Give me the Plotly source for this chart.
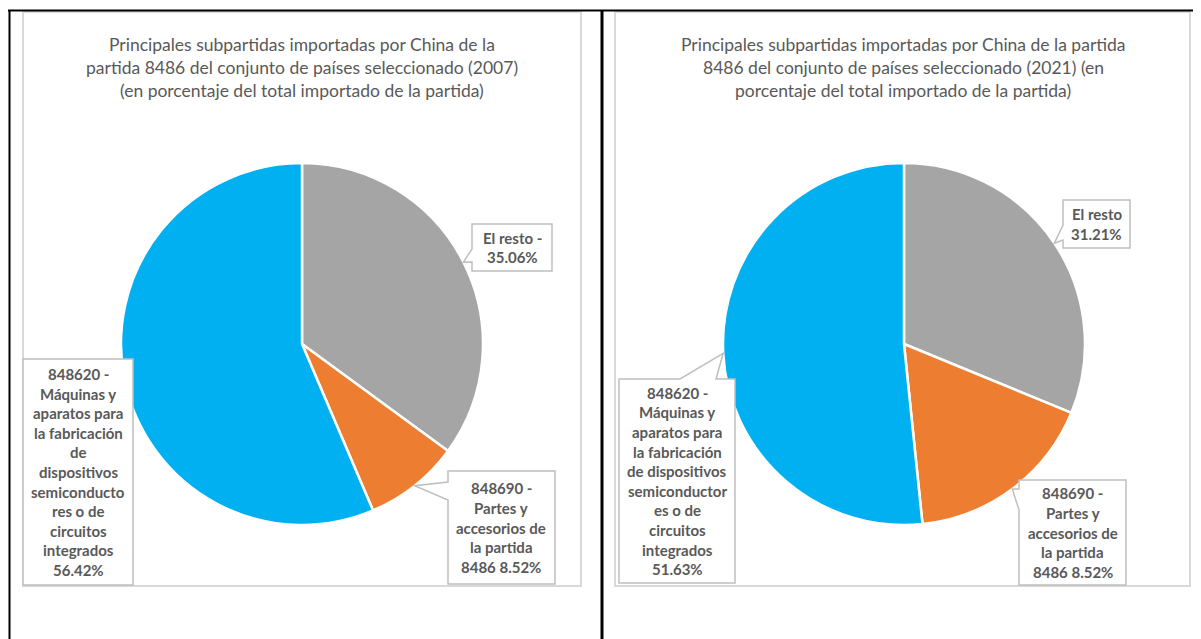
import math
import plotly.graph_objects as go

# page body has an 8px margin; figure fills the rest of the 1201x639 window
OFF = 8
W, H = 1201 - OFF, 639 - OFF

# ---------------- data ----------------
categories = ["El resto",
              "848690 - Partes y accesorios de la partida 8486",
              "848620 - Máquinas y aparatos para la fabricación de dispositivos semiconductores o de circuitos integrados"]
colors = ["#A5A5A5", "#ED7D31", "#00B0F0"]

values_2007 = [35.06, 8.52, 56.42]
values_2021 = [31.21, 17.16, 51.63]

title_2007 = ["Principales subpartidas importadas por China de la",
              "partida 8486 del conjunto de países seleccionado (2007)",
              "(en porcentaje del total importado de la partida)"]
title_2021 = ["Principales subpartidas importadas por China de la partida",
              "8486 del conjunto de países seleccionado (2021) (en",
              "porcentaje del total importado de la partida)"]

labels_2007 = [["El resto -", "35.06%"],
               ["848690 -", "Partes y", "accesorios de", "la partida", "8486 8.52%"],
               ["848620 -", "Máquinas y", "aparatos para", "la fabricación", "de",
                "dispositivos", "semiconducto", "res o de", "circuitos", "integrados", "56.42%"]]
labels_2021 = [["El resto", "31.21%"],
               ["848690 -", "Partes y", "accesorios de", "la partida", "8486 8.52%"],
               ["848620 -", "Máquinas y", "aparatos para", "la fabricación", "de dispositivos",
                "semiconductor", "es o de", "circuitos", "integrados", "51.63%"]]

# ---------------- layout helpers (window pixels -> paper) ----------------
def X(px):
    return (px - OFF) / W

def Y(py):
    return 1 - (py - OFF) / H

fig = go.Figure()

pies = [
    dict(values=values_2007, labels=labels_2007, title=title_2007,
         cx=302, cy=344, r=181, tcx=302,
         boxes=[dict(b=(472, 224, 552, 271), side="left", base=(249, 262)),
                dict(b=(448, 471, 555, 584), side="left", base=(482, 500)),
                dict(b=(23, 359, 133, 585), side=None, base=None)]),
    dict(values=values_2021, labels=labels_2021, title=title_2021,
         cx=904, cy=344, r=181, tcx=903,
         boxes=[dict(b=(1063, 200, 1130, 248), side="left", base=(225, 240)),
                dict(b=(1019, 480, 1126, 585), side="left", base=(489, 510)),
                dict(b=(619, 379, 735, 583), side="top", base=(680, 716))]),
]

shapes = []
annotations = []

# table frame (black lines)
shapes.append(dict(type="line", xref="paper", yref="paper", x0=X(8), x1=X(1201), y0=Y(10.5), y1=Y(10.5),
                   line=dict(color="black", width=2)))
shapes.append(dict(type="line", xref="paper", yref="paper", x0=X(9.5), x1=X(9.5), y0=Y(10), y1=Y(639),
                   line=dict(color="black", width=2)))
shapes.append(dict(type="line", xref="paper", yref="paper", x0=X(602), x1=X(602), y0=Y(10), y1=Y(639),
                   line=dict(color="black", width=3)))

# chart area borders
for (x0, x1) in [(23, 581), (615, 1190)]:
    shapes.append(dict(type="rect", xref="paper", yref="paper", x0=X(x0), x1=X(x1), y0=Y(12), y1=Y(586),
                       line=dict(color="#D9D9D9", width=2), fillcolor="rgba(0,0,0,0)", layer="below"))

for p in pies:
    cx, cy, r = p["cx"], p["cy"], p["r"]
    fig.add_trace(go.Pie(
        labels=categories, values=p["values"], sort=False, direction="clockwise", rotation=0,
        marker=dict(colors=colors, line=dict(color="white", width=2.5)),
        textinfo="none", hoverinfo="label+percent", showlegend=False,
        domain=dict(x=[X(cx - r), X(cx + r)], y=[Y(cy + r), Y(cy - r)]),
    ))
    # title lines
    for i, line in enumerate(p["title"]):
        annotations.append(dict(xref="paper", yref="paper", x=X(p["tcx"]), y=Y(44 + 23.3 * i),
                                text=line, showarrow=False, xanchor="center", yanchor="middle",
                                font=dict(family="Lato", size=17.5, color="#595959")))
    # callouts
    total = sum(p["values"])
    cum = 0.0
    for val, lab, bx in zip(p["values"], p["labels"], p["boxes"]):
        mid = (cum + val / 2) / total * 2 * math.pi
        cum += val
        tx = cx + r * math.sin(mid)
        ty = cy - r * math.cos(mid)
        x0, y0, x1, y1 = bx["b"]
        if bx["side"] == "left":
            b0, b1 = bx["base"]
            pts = [(x0, y0), (x1, y0), (x1, y1), (x0, y1), (x0, b1), (tx, ty), (x0, b0)]
        elif bx["side"] == "top":
            a0, a1 = bx["base"]
            pts = [(x0, y0), (a0, y0), (tx, ty), (a1, y0), (x1, y0), (x1, y1), (x0, y1)]
        else:
            pts = [(x0, y0), (x1, y0), (x1, y1), (x0, y1)]
        path = "M " + " L ".join(f"{X(a):.5f},{Y(b):.5f}" for a, b in pts) + " Z"
        shapes.append(dict(type="path", xref="paper", yref="paper", path=path,
                           fillcolor="white", line=dict(color="#BFBFBF", width=1.5), layer="above"))
        n = len(lab)
        sp = 19.6
        ymid = (y0 + y1) / 2
        start = ymid - sp * (n - 1) / 2
        for i, line in enumerate(lab):
            annotations.append(dict(xref="paper", yref="paper", x=X((x0 + x1) / 2), y=Y(start + sp * i),
                                    text=f"<b>{line}</b>", showarrow=False, xanchor="center", yanchor="middle",
                                    font=dict(family="Lato", size=15, color="#595959")))

fig.update_layout(width=W, height=H, margin=dict(l=0, r=0, t=0, b=0),
                  paper_bgcolor="white", plot_bgcolor="white",
                  shapes=shapes, annotations=annotations, showlegend=False)

fig.write_html("out.html")
